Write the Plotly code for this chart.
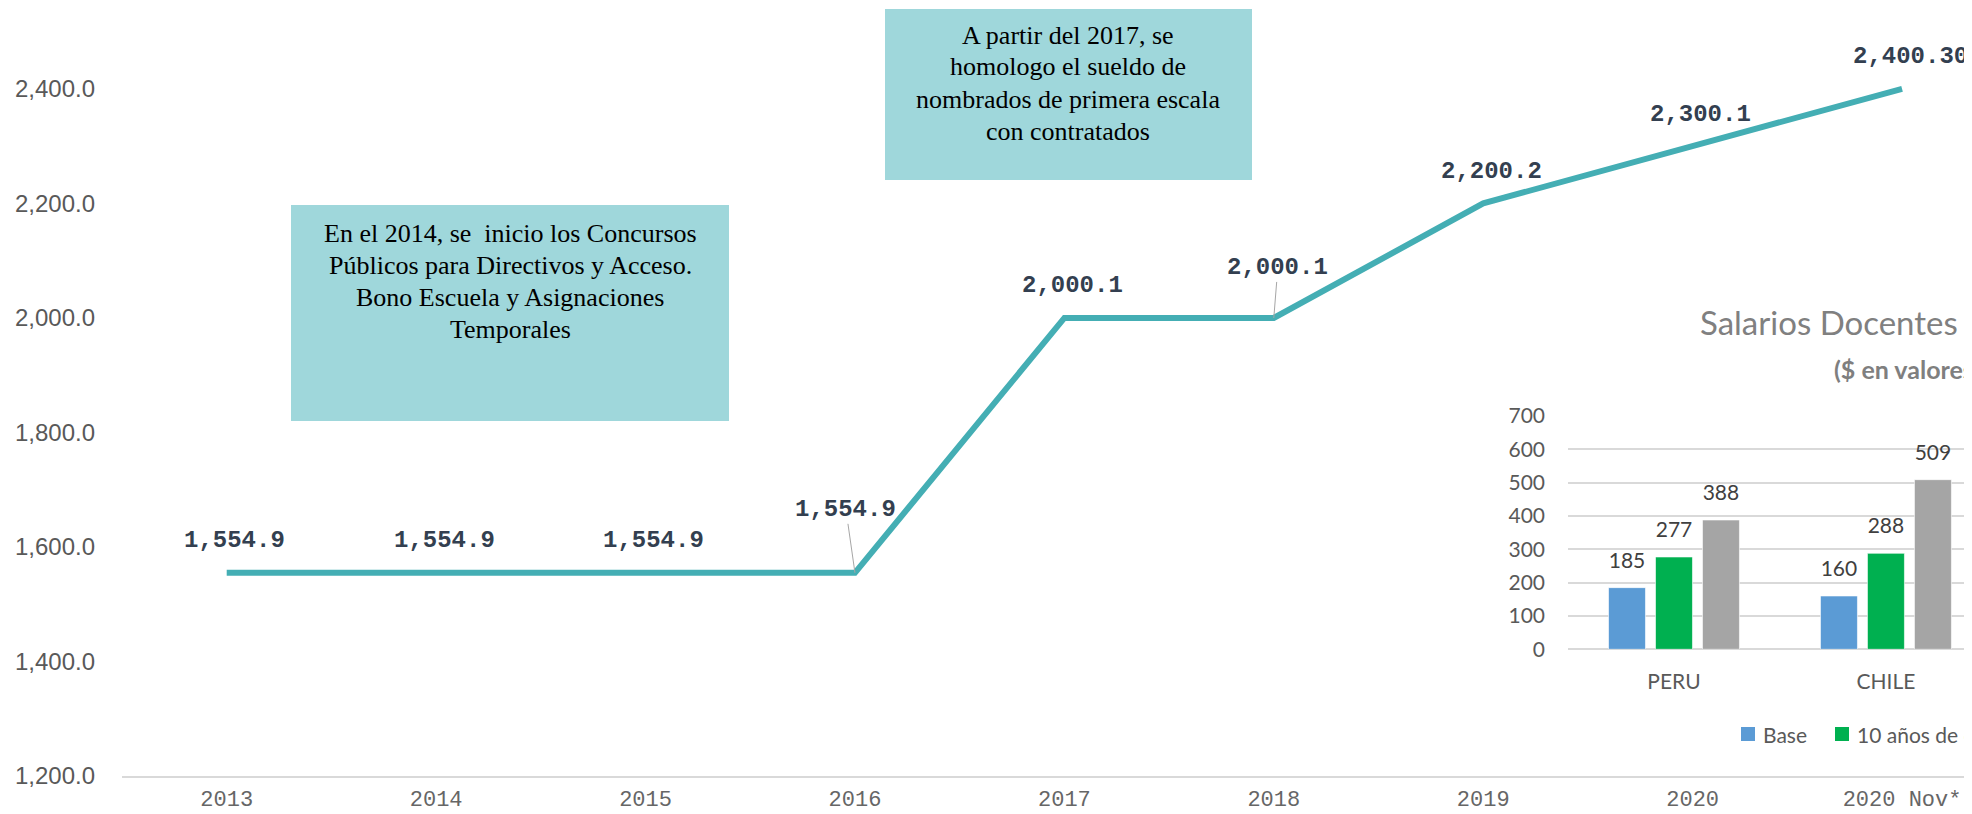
import plotly.graph_objects as go

# ---------------- data ----------------
years = ["2013", "2014", "2015", "2016", "2017", "2018", "2019", "2020", "2020 Nov*"]
salary = [1554.9, 1554.9, 1554.9, 1554.9, 2000.1, 2000.1, 2200.2, 2300.1, 2400.3]
salary_labels = ["1,554.9", "1,554.9", "1,554.9", "1,554.9", "2,000.1", "2,000.1",
                 "2,200.2", "2,300.1", "2,400.30"]
y_ticks = [1200, 1400, 1600, 1800, 2000, 2200, 2400]

countries = ["PERU", "CHILE"]
base = [185, 160]
diez_anios = [277, 288]
tercera = [388, 509]
series_names = ["Base", "10 años de experiencia", "15 años de experiencia"]
series_colors = ["#5b9bd5", "#00b050", "#a5a5a5"]
inset_ticks = [0, 100, 200, 300, 400, 500, 600, 700]

note1 = ["En el 2014, se  inicio los Concursos",
         "Públicos para Directivos y Acceso.",
         "Bono Escuela y Asignaciones",
         "Temporales"]
note2 = ["A partir del 2017, se",
         "homologo el sueldo de",
         "nombrados de primera escala",
         "con contratados"]

# ---------------- layout helpers (page pixel -> paper) ----------------
OFF = 8                      # default body margin of the page
W, H = 1972 - OFF, 814 - OFF
PLOT_L, PLOT_R, PLOT_T, PLOT_B = 122, 1972, OFF, 776   # plot area in page pixels
ML, MR, MT, MB = PLOT_L - OFF, 0, 0, 814 - PLOT_B
PW, PH = PLOT_R - PLOT_L, PLOT_B - PLOT_T


def px(xp):
    return (xp - PLOT_L) / PW


def py(yp):
    return (PLOT_B - yp) / PH


Y_TOP = 2400 + (89 - PLOT_T) * 1200 / (776 - 89)

LINE = "#44aeb4"
BOX = "#9fd7db"

fig = go.Figure()

fig.add_trace(go.Scatter(
    x=years, y=salary, mode="lines",
    line=dict(color=LINE, width=6), showlegend=False, hoverinfo="skip",
))

# inset bar chart
for name, vals, col in zip(series_names, [base, diez_anios, tercera], series_colors):
    fig.add_trace(go.Bar(
        x=countries, y=vals, name=name, xaxis="x2", yaxis="y2", offsetgroup=name,
        marker=dict(color=col, line=dict(color="rgba(255,255,255,0.6)", width=1)),
        showlegend=False, hoverinfo="skip",
    ))
for name, vals in zip(series_names, [base, diez_anios, tercera]):
    fig.add_trace(go.Scatter(
        x=countries, y=vals, xaxis="x2", yaxis="y2", offsetgroup=name,
        mode="markers+text", text=[str(v) for v in vals], textposition="top center",
        marker=dict(size=22, color="rgba(0,0,0,0)"), cliponaxis=False,
        textfont=dict(family="Lato", size=21, color="#404040"),
        showlegend=False, hoverinfo="skip",
    ))

annotations = []
shapes = []

# data labels of the line
special = {3: (-9, -63), 5: (4, -50)}
for i, (v, lab) in enumerate(zip(salary, salary_labels)):
    f = dict(family="Liberation Mono", size=24, color="#333f50", weight="bold")
    if i in special:
        ax, ay = special[i]
        annotations.append(dict(x=i, y=v, xref="x", yref="y", text=lab, font=f,
                                showarrow=True, ax=ax, ay=ay, arrowhead=0,
                                arrowwidth=1, arrowcolor="#a6a6a6", standoff=0,
                                borderpad=0))
    else:
        annotations.append(dict(x=i, y=v, xref="x", yref="y", text=lab, font=f,
                                showarrow=False, xshift=8, yshift=32))

# note boxes
shapes.append(dict(type="rect", xref="paper", yref="paper", layer="below",
                   x0=px(291), x1=px(729), y0=py(421), y1=py(205),
                   fillcolor=BOX, line=dict(width=0)))
shapes.append(dict(type="rect", xref="paper", yref="paper", layer="below",
                   x0=px(885), x1=px(1252), y0=py(180), y1=py(9),
                   fillcolor=BOX, line=dict(width=0)))
serif = dict(family="Liberation Serif", size=26, color="#000000")
for k, t in enumerate(note1):
    annotations.append(dict(x=px(510), y=py(233 + 32 * k), xref="paper", yref="paper",
                            text=t, font=serif, showarrow=False,
                            xanchor="center", yanchor="middle"))
for k, t in enumerate(note2):
    annotations.append(dict(x=px(1068), y=py(35 + 32 * k), xref="paper", yref="paper",
                            text=t, font=serif, showarrow=False,
                            xanchor="center", yanchor="middle"))

# inset titles
annotations.append(dict(x=px(1698), y=py(322), xref="paper", yref="paper",
                        text="Salarios Docentes", showarrow=False,
                        xanchor="left", yanchor="middle",
                        font=dict(family="Lato", size=33, color="#808080")))
annotations.append(dict(x=px(1832), y=py(369), xref="paper", yref="paper",
                        text="($ en valores)", showarrow=False,
                        xanchor="left", yanchor="middle",
                        font=dict(family="Lato", size=25, color="#7f7f7f", weight="bold")))

# inset legend
leg_x = [1741, 1835, 2080]
for name, col, lx in zip(series_names, series_colors, leg_x):
    shapes.append(dict(type="rect", xref="paper", yref="paper",
                       x0=px(lx), x1=px(lx + 14), y0=py(741), y1=py(727),
                       fillcolor=col, line=dict(width=0)))
    annotations.append(dict(x=px(lx + 20), y=py(734), xref="paper", yref="paper",
                            text=name, showarrow=False, xanchor="left", yanchor="middle",
                            font=dict(family="Lato", size=21, color="#595959")))

fig.update_layout(
    width=W, height=H,
    margin=dict(l=ML, r=MR, t=MT, b=MB, pad=0, autoexpand=False),
    paper_bgcolor="white", plot_bgcolor="rgba(0,0,0,0)",
    showlegend=False,
    barmode="group", bargap=0.335, bargroupgap=0.213,
    scattermode="group", scattergap=0.335,
    xaxis=dict(type="category", categoryorder="array", categoryarray=years,
               range=[-0.5, 8.334], showgrid=False, zeroline=False, automargin=False,
               showline=True, linecolor="#d9d9d9", linewidth=2,
               ticks="", ticklabelstandoff=2,
               tickfont=dict(family="Liberation Mono", size=22, color="#666666")),
    yaxis=dict(range=[1200, Y_TOP], tickvals=y_ticks, tickformat=",.1f",
               showgrid=False, zeroline=False, showline=False, ticks="",
               ticklabelstandoff=26, automargin=False,
               tickfont=dict(family="Liberation Sans", size=24, color="#595959")),
    xaxis2=dict(domain=[px(1568), 1.0], anchor="y2", type="category",
                range=[-0.5, 1.406], showgrid=False, zeroline=False, showline=False,
                ticks="", ticklabelstandoff=18, automargin=False,
                tickfont=dict(family="Lato", size=21, color="#595959")),
    yaxis2=dict(domain=[py(649.3), py(416)], anchor="x2", range=[0, 700],
                tickvals=inset_ticks, showgrid=True, gridcolor="#d9d9d9", gridwidth=2,
                zeroline=True, zerolinecolor="#d9d9d9", zerolinewidth=2,
                showline=False, ticks="", ticklabelstandoff=22, automargin=False,
                tickfont=dict(family="Lato", size=21, color="#595959")),
    annotations=annotations, shapes=shapes,
)

fig.write_html("out.html")
